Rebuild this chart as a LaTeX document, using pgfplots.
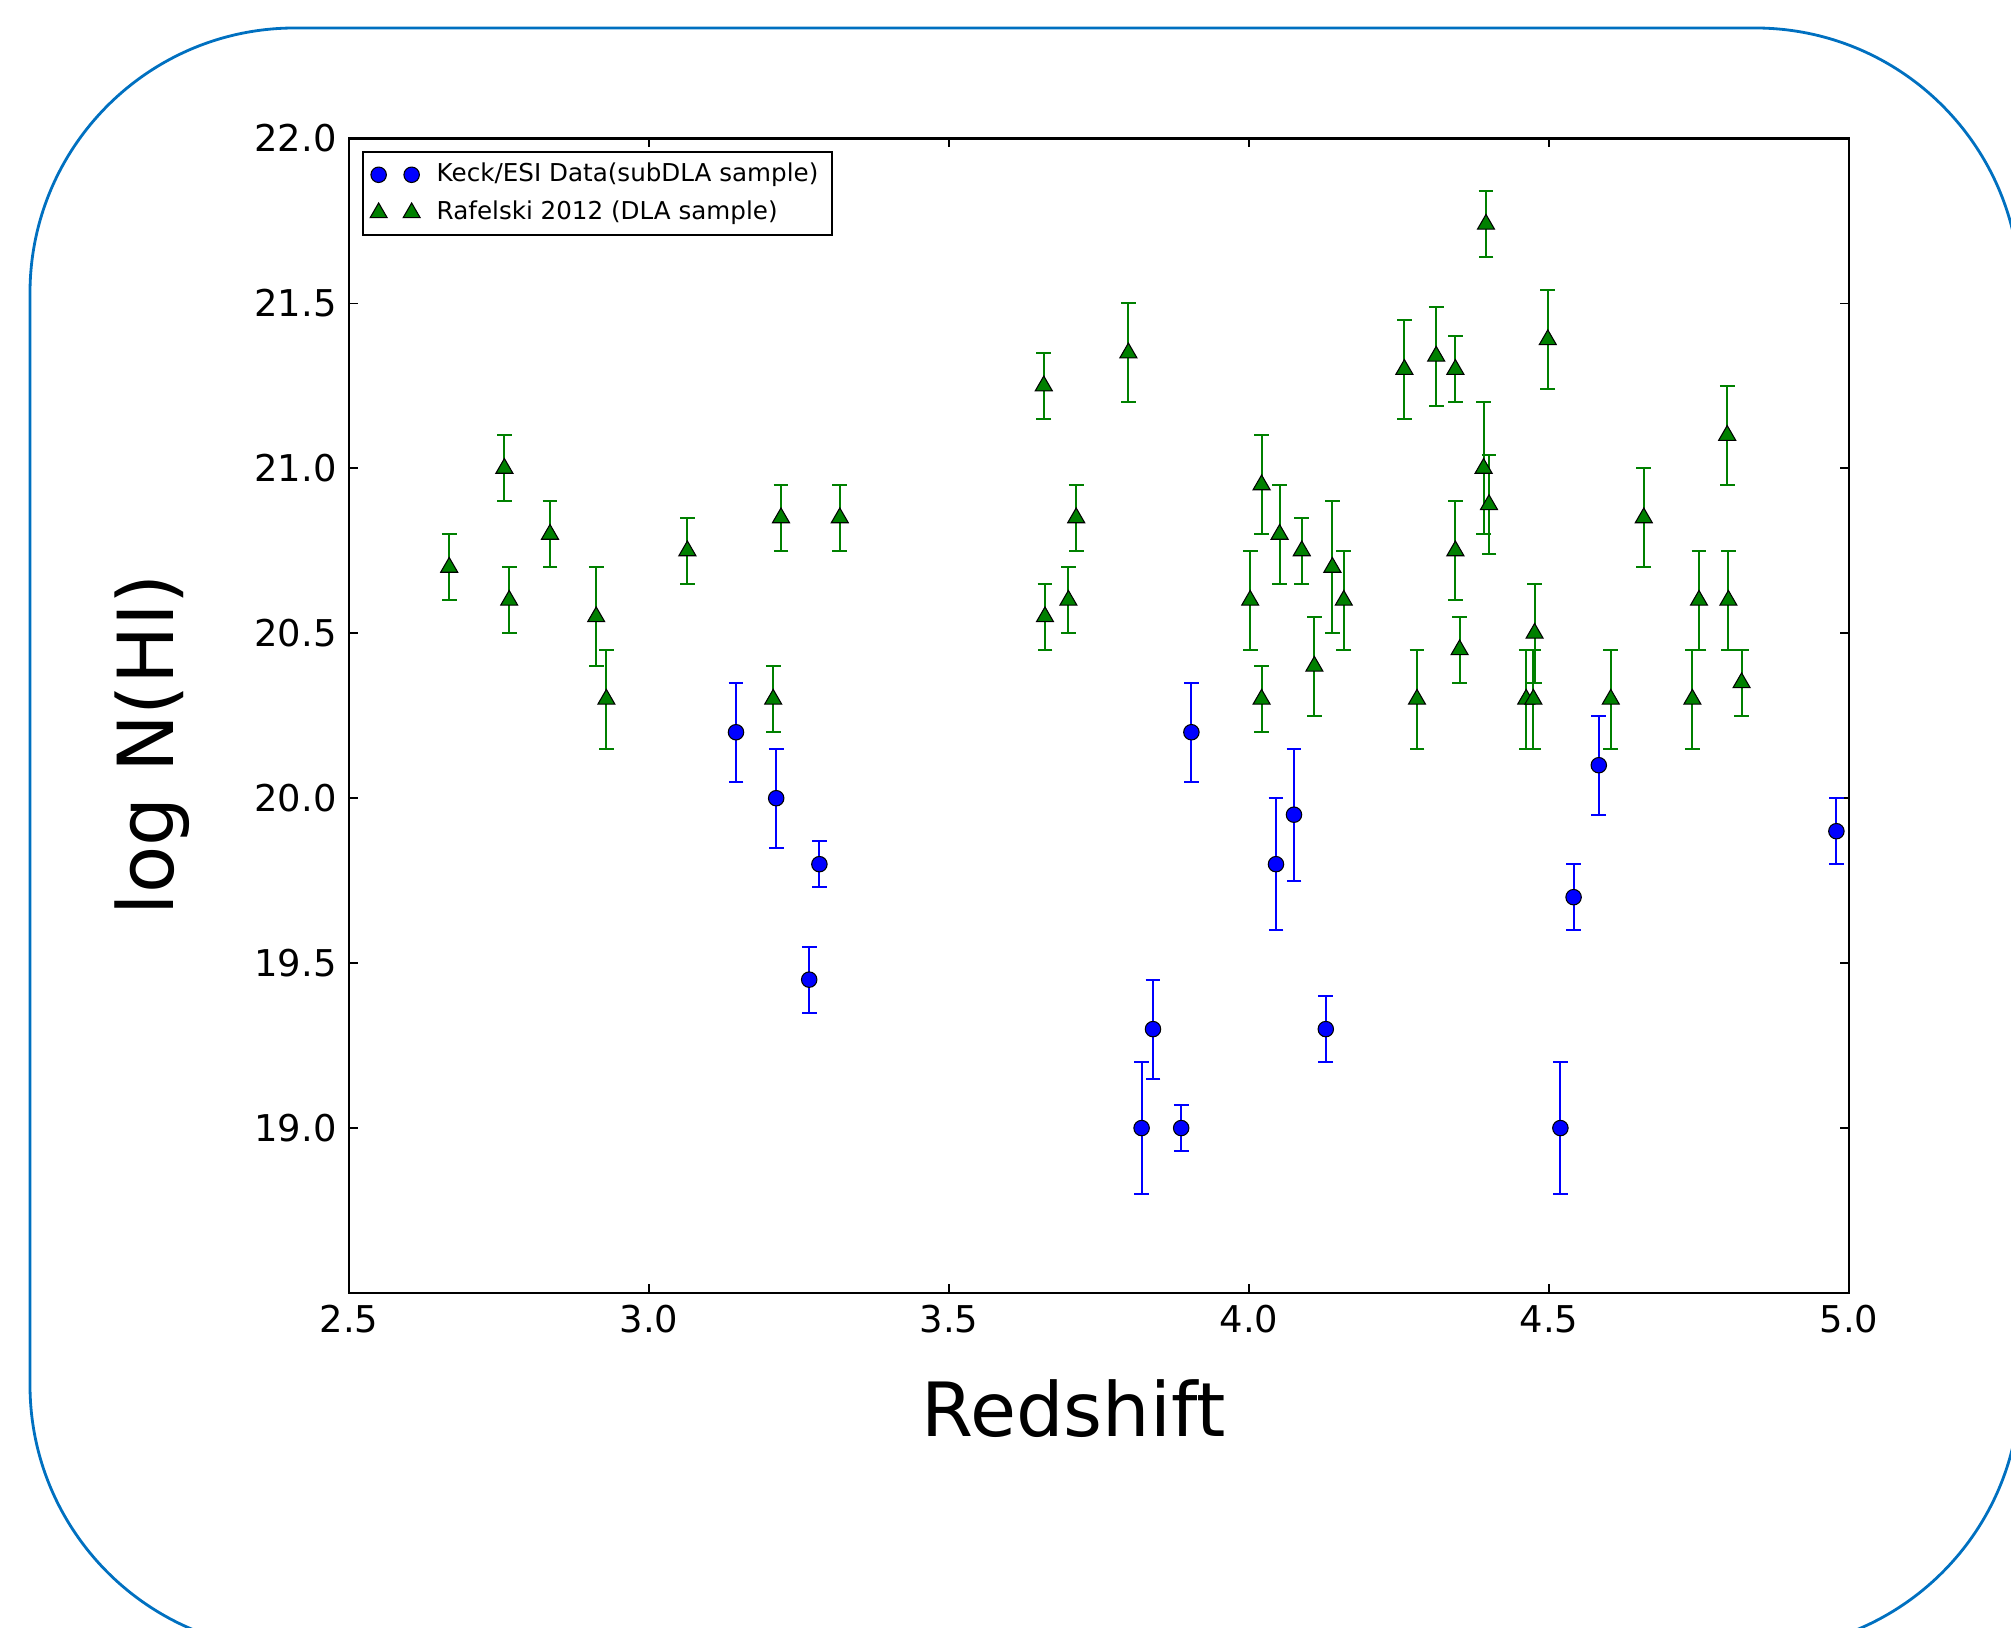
\documentclass[border=0pt]{standalone}
\usepackage{pgfplots}
\pgfplotsset{compat=1.18}
\usepackage{fontspec}
\setmainfont{DejaVu Sans}
\definecolor{mplblue}{RGB}{0,0,255}
\definecolor{mplgreen}{RGB}{0,128,0}
\definecolor{frameblue}{RGB}{0,112,192}
\begin{document}
\begin{tikzpicture}
\useasboundingbox (0,0) rectangle (20.11cm,16.28cm);
\draw[frameblue, line width=0.8pt, rounded corners=2.65cm] (0.30cm,-0.22cm) rectangle (20.2cm,16.0cm);
\begin{axis}[
 at={(3.49cm,3.35cm)}, anchor=south west,
 scale only axis, width=15cm, height=11.545cm,
 xmin=2.5, xmax=5.0, ymin=18.5, ymax=22.0,
 xtick={2.5,3.0,...,5.0}, ytick={19.0,19.5,...,22.0},
 axis line style={line width=0.8pt},
 major tick length=0.09cm,
 tick style={black, line width=0.5pt},
 /pgf/number format/assume math mode=true,
 xticklabel style={font=\fontsize{10.5}{12}\selectfont, /pgf/number format/.cd, fixed, fixed zerofill, precision=1},
 yticklabel style={font=\fontsize{10.5}{12}\selectfont, /pgf/number format/.cd, fixed, fixed zerofill, precision=1},
 xlabel={Redshift}, ylabel={log N(HI)},
 xlabel style={font=\fontsize{21.3}{24}\selectfont, at={(axis description cs:0.483,-0.124)}, anchor=base},
 ylabel style={font=\fontsize{22}{24}\selectfont, at={(axis description cs:-0.117,0.475)}, anchor=base, rotate=0},
 legend style={at={(rel axis cs:0.0087,0.989)}, anchor=north west, draw=black, line width=0.6pt,
   font=\fontsize{7}{9}\selectfont, row sep=0pt, inner ysep=1pt, inner xsep=2pt},
 legend cell align=left,
 legend image code/.code={\draw[#1] plot coordinates {(0cm,0cm) (0.33cm,0cm)}; \path (0.5cm,0cm);},
]
\addplot+[only marks, mark=*, mark size=2.2pt, mark options={fill=mplblue, draw=black, line width=0.3pt},
  error bars/.cd, y dir=both, y explicit,
  error bar style={mplblue, line width=0.6pt},
  error mark options={rotate=90, mplblue, mark size=2.1pt, line width=0.6pt}]
coordinates {
(3.145,20.20) +- (0,0.15)
(3.212,20.00) +- (0,0.15)
(3.267,19.45) +- (0,0.10)
(3.284,19.80) +- (0,0.07)
(3.821,19.00) +- (0,0.20)
(3.840,19.30) +- (0,0.15)
(3.887,19.00) +- (0,0.07)
(3.904,20.20) +- (0,0.15)
(4.045,19.80) +- (0,0.20)
(4.075,19.95) +- (0,0.20)
(4.128,19.30) +- (0,0.10)
(4.519,19.00) +- (0,0.20)
(4.541,19.70) +- (0,0.10)
(4.583,20.10) +- (0,0.15)
(4.979,19.90) +- (0,0.10)
};
\addlegendentry{Keck/ESI Data(subDLA sample)}
\addplot+[only marks, mark=triangle*, mark size=2.8pt, mark options={fill=mplgreen, draw=black, line width=0.3pt},
  error bars/.cd, y dir=both, y explicit,
  error bar style={mplgreen, line width=0.6pt},
  error mark options={rotate=90, mplgreen, mark size=2.1pt, line width=0.6pt}]
coordinates {
(2.667,20.70) +- (0,0.10)
(2.759,21.00) +- (0,0.10)
(2.767,20.60) +- (0,0.10)
(2.835,20.80) +- (0,0.10)
(2.912,20.55) +- (0,0.15)
(2.929,20.30) +- (0,0.15)
(3.064,20.75) +- (0,0.10)
(3.207,20.30) +- (0,0.10)
(3.220,20.85) +- (0,0.10)
(3.318,20.85) +- (0,0.10)
(3.658,21.25) +- (0,0.10)
(3.660,20.55) +- (0,0.10)
(3.699,20.60) +- (0,0.10)
(3.712,20.85) +- (0,0.10)
(3.799,21.35) +- (0,0.15)
(4.002,20.60) +- (0,0.15)
(4.021,20.95) +- (0,0.15)
(4.021,20.30) +- (0,0.10)
(4.051,20.80) +- (0,0.15)
(4.088,20.75) +- (0,0.10)
(4.109,20.40) +- (0,0.15)
(4.139,20.70) +- (0,0.20)
(4.158,20.60) +- (0,0.15)
(4.259,21.30) +- (0,0.15)
(4.280,20.30) +- (0,0.15)
(4.312,21.34) +- (0,0.15)
(4.344,20.75) +- (0,0.15)
(4.344,21.30) +- (0,0.10)
(4.351,20.45) +- (0,0.10)
(4.391,21.00) +- (0,0.20)
(4.395,21.74) +- (0,0.10)
(4.400,20.89) +- (0,0.15)
(4.462,20.30) +- (0,0.15)
(4.474,20.30) +- (0,0.15)
(4.476,20.50) +- (0,0.15)
(4.498,21.39) +- (0,0.15)
(4.603,20.30) +- (0,0.15)
(4.658,20.85) +- (0,0.15)
(4.739,20.30) +- (0,0.15)
(4.750,20.60) +- (0,0.15)
(4.797,21.10) +- (0,0.15)
(4.799,20.60) +- (0,0.15)
(4.821,20.35) +- (0,0.10)
};
\addlegendentry{Rafelski 2012 (DLA sample)}
\end{axis}
\end{tikzpicture}
\end{document}
